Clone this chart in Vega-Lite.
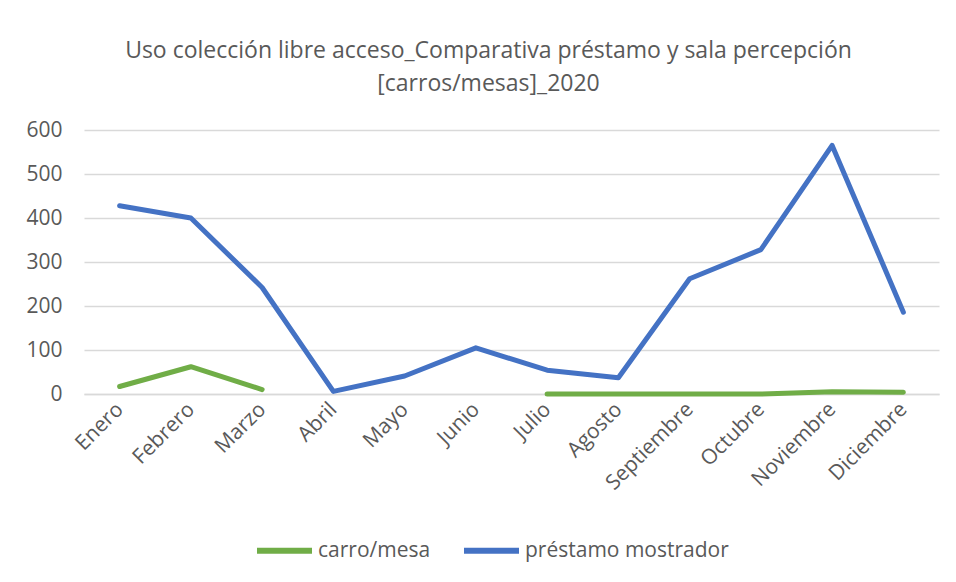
{
  "$schema": "https://vega.github.io/schema/vega-lite/v6.json",
  "width": 855,
  "height": 264,
  "autosize": {"type": "none"},
  "padding": {"left": 84, "top": 130, "right": 17, "bottom": 188},
  "background": "white",
  "title": {
    "text": ["Uso colección libre acceso_Comparativa préstamo y sala percepción", "[carros/mesas]_2020"],
    "font": "Open Sans",
    "fontSize": 23,
    "fontWeight": "normal",
    "color": "#595959",
    "anchor": "middle",
    "dx": -23,
    "offset": 23,
    "lineHeight": 33
  },
  "data": {
    "values": [
      {"mes": "Enero", "serie": "carro/mesa", "valor": 17},
      {"mes": "Febrero", "serie": "carro/mesa", "valor": 62},
      {"mes": "Marzo", "serie": "carro/mesa", "valor": 10},
      {"mes": "Abril", "serie": "carro/mesa", "valor": null},
      {"mes": "Mayo", "serie": "carro/mesa", "valor": null},
      {"mes": "Junio", "serie": "carro/mesa", "valor": null},
      {"mes": "Julio", "serie": "carro/mesa", "valor": 0},
      {"mes": "Agosto", "serie": "carro/mesa", "valor": 0},
      {"mes": "Septiembre", "serie": "carro/mesa", "valor": 0},
      {"mes": "Octubre", "serie": "carro/mesa", "valor": 0},
      {"mes": "Noviembre", "serie": "carro/mesa", "valor": 5},
      {"mes": "Diciembre", "serie": "carro/mesa", "valor": 4},
      {"mes": "Enero", "serie": "préstamo mostrador", "valor": 428},
      {"mes": "Febrero", "serie": "préstamo mostrador", "valor": 400},
      {"mes": "Marzo", "serie": "préstamo mostrador", "valor": 242},
      {"mes": "Abril", "serie": "préstamo mostrador", "valor": 6},
      {"mes": "Mayo", "serie": "préstamo mostrador", "valor": 41},
      {"mes": "Junio", "serie": "préstamo mostrador", "valor": 105},
      {"mes": "Julio", "serie": "préstamo mostrador", "valor": 54},
      {"mes": "Agosto", "serie": "préstamo mostrador", "valor": 37},
      {"mes": "Septiembre", "serie": "préstamo mostrador", "valor": 262},
      {"mes": "Octubre", "serie": "préstamo mostrador", "valor": 328},
      {"mes": "Noviembre", "serie": "préstamo mostrador", "valor": 565},
      {"mes": "Diciembre", "serie": "préstamo mostrador", "valor": 186}
    ]
  },
  "mark": {"type": "line", "strokeWidth": 5, "strokeCap": "round", "strokeJoin": "round"},
  "encoding": {
    "x": {
      "field": "mes",
      "type": "ordinal",
      "sort": ["Enero", "Febrero", "Marzo", "Abril", "Mayo", "Junio", "Julio", "Agosto", "Septiembre", "Octubre", "Noviembre", "Diciembre"],
      "scale": {"type": "point", "padding": 0.5},
      "axis": {
        "title": null,
        "labelAngle": -45,
        "labelAlign": "right",
        "labelBaseline": "middle",
        "labelPadding": 12,
        "labelFont": "Open Sans",
        "labelFontSize": 21,
        "labelColor": "#595959",
        "ticks": false,
        "domain": true,
        "domainColor": "#d9d9d9",
        "domainWidth": 1.3,
        "grid": false
      }
    },
    "y": {
      "field": "valor",
      "type": "quantitative",
      "scale": {"domain": [0, 600]},
      "axis": {
        "title": null,
        "values": [0, 100, 200, 300, 400, 500, 600],
        "labelFont": "Open Sans",
        "labelFontSize": 21,
        "labelColor": "#595959",
        "labelPadding": 22,
        "ticks": false,
        "domain": false,
        "grid": true,
        "gridColor": "#d9d9d9",
        "gridWidth": 1.3
      }
    },
    "color": {
      "field": "serie",
      "type": "nominal",
      "scale": {"domain": ["carro/mesa", "préstamo mostrador"], "range": ["#70AD47", "#4472C4"]},
      "legend": {
        "title": null,
        "orient": "none",
        "direction": "horizontal",
        "legendX": 170,
        "legendY": 390,
        "symbolType": "stroke",
        "symbolSize": 3025,
        "symbolStrokeWidth": 6,
        "labelFont": "Open Sans",
        "labelFontSize": 21,
        "labelColor": "#595959",
        "labelOffset": 3,
        "labelLimit": 400,
        "columnPadding": 21
      }
    }
  },
  "config": {"view": {"stroke": null}}
}
